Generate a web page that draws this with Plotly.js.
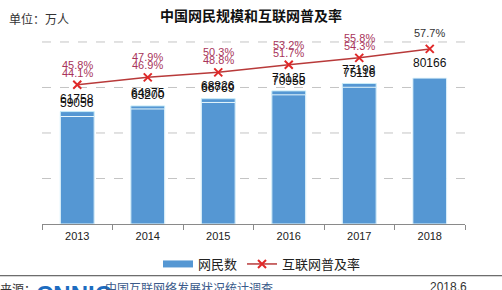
<!DOCTYPE html>
<html>
<head>
<meta charset="utf-8">
<script src="https://cdn.plot.ly/plotly-3.0.1.min.js"></script>
<style>html,body{margin:0;padding:0;background:#fff;}#chart{width:502px;height:290px;}</style>
</head>
<body>
<div id="chart"></div>
<script>
const years = ['2013', '2014', '2015', '2016', '2017', '2018'];
const usersDec = [61758, 64875, 68826, 73125, 77198, null];
const usersJun = [59056, 63200, 66769, 70958, 75116, 80166];
const rateDec = [45.8, 47.9, 50.3, 53.2, 55.8, null];
const rateJun = [44.1, 46.9, 48.8, 51.7, 54.3, 57.7];
const gridVals = [25000, 50000, 75000, 100000];
const barName = '网民数';
const lineName = '互联网普及率';

const W = 502, H = 290, L = 42, R = 465, T = 36, B = 225;
const px = x => (x - L) / (R - L);
const py = y => (B - y) / (B - T);

const fontCJK = '"Noto Sans CJK SC", "Liberation Sans", Arial, sans-serif';
const fontNum = 'Liberation Sans, Arial, sans-serif';
const barColor = '#5597d3';
const lblColor = '#a8345a';

const traces = [
  {
    type: 'bar', x: years, y: usersDec, name: barName,
    marker: {color: barColor, line: {color: '#c8ecf8', width: 1}},
    width: 0.48, showlegend: false, hoverinfo: 'skip'
  },
  {
    type: 'bar', x: years, y: usersJun, name: barName,
    marker: {color: barColor, line: {color: '#e6f6fc', width: 1}},
    width: 0.48, showlegend: false, hoverinfo: 'skip'
  },
  {
    type: 'scatter', mode: 'lines', x: years, y: years.map(() => null), name: barName,
    line: {color: barColor, width: 7}, showlegend: true, hoverinfo: 'skip'
  },
  {
    type: 'scatter', mode: 'lines+markers', x: years, y: rateJun, yaxis: 'y2',
    name: lineName,
    line: {color: '#b83a3a', width: 1.5},
    marker: {symbol: 'x-thin-open', size: 8, color: '#e02828', line: {color: '#e02828', width: 2}}
  }
];

const annotations = [];
years.forEach((yr, i) => {
  if (usersDec[i] != null) annotations.push({
    x: i, y: usersDec[i], xref: 'x', yref: 'y', text: String(usersDec[i]),
    showarrow: false, yanchor: 'bottom', yshift: 4,
    font: {family: fontNum, size: 12, color: '#111'}
  });
  annotations.push({
    x: i, y: usersJun[i], xref: 'x', yref: 'y', text: String(usersJun[i]),
    showarrow: false, yanchor: 'bottom', yshift: yr === '2018' ? 6 : 5,
    font: {family: fontNum, size: 12, color: '#111'}
  });
  if (rateDec[i] != null) annotations.push({
    x: i, y: rateJun[i], xref: 'x', yref: 'y2', text: rateDec[i].toFixed(1) + '%',
    showarrow: false, yanchor: 'middle', yshift: 20,
    font: {family: fontNum, size: 11, color: lblColor}
  });
  annotations.push({
    x: i, y: rateJun[i], xref: 'x', yref: 'y2', text: rateJun[i].toFixed(1) + '%',
    showarrow: false, yanchor: 'middle', yshift: i === years.length - 1 ? 16 : 12,
    font: {family: fontNum, size: 11, color: i === years.length - 1 ? '#333' : lblColor}
  });
});

annotations.push(
  {text: '单位：万人', xref: 'paper', yref: 'paper', x: px(7), y: py(18), xanchor: 'left', yanchor: 'middle',
   showarrow: false, font: {family: fontCJK, size: 12, color: '#333'}},
  {text: '来源：', xref: 'paper', yref: 'paper', x: px(-2), y: py(279), xanchor: 'left', yanchor: 'top',
   showarrow: false, font: {family: fontCJK, size: 12, color: '#333'}},
  {text: '<b>CNNIC</b>', xref: 'paper', yref: 'paper', x: px(34), y: py(280), xanchor: 'left', yanchor: 'top',
   showarrow: false, font: {family: fontNum, size: 24, color: '#1d6cc0'}},
  {text: '中国互联网络发展状况统计调查', xref: 'paper', yref: 'paper', x: px(103), y: py(278), xanchor: 'left', yanchor: 'top',
   showarrow: false, font: {family: fontCJK, size: 12, color: '#3a5a8a'}},
  {text: '2018.6', xref: 'paper', yref: 'paper', x: px(448), y: py(279), xanchor: 'center', yanchor: 'top',
   showarrow: false, font: {family: fontNum, size: 12, color: '#333'}}
);

const shapes = gridVals.map(v => ({
  type: 'line', xref: 'paper', yref: 'y', x0: 0, x1: 1, y0: v, y1: v, layer: 'below',
  line: {color: '#c4c4c4', width: 1, dash: 'dash'}
}));
shapes.push({type: 'line', xref: 'paper', yref: 'paper', x0: px(0), x1: px(502), y0: py(277), y1: py(277),
  line: {color: '#444', width: 1}});

const layout = {
  width: W, height: H,
  margin: {l: L, r: W - R, t: T, b: H - B, pad: 0},
  paper_bgcolor: '#ffffff', plot_bgcolor: '#ffffff',
  barmode: 'overlay',
  showlegend: true,
  title: {
    text: '<b>中国网民规模和互联网普及率</b>',
    font: {family: fontCJK, size: 14, color: '#111'},
    x: 251 / W, xref: 'container', xanchor: 'center',
    y: 1 - 16 / H, yref: 'container', yanchor: 'middle'
  },
  xaxis: {
    type: 'category', categoryorder: 'array', categoryarray: years,
    range: [-0.5, years.length - 0.5], autorange: false,
    showline: true, linecolor: '#8a8a8a', linewidth: 1,
    ticks: 'outside', tickson: 'boundaries', ticklen: 5, tickcolor: '#8a8a8a',
    ticklabelstandoff: 2,
    tickfont: {family: fontNum, size: 11, color: '#222'},
    showgrid: false, zeroline: false
  },
  yaxis: {
    range: [0, 103279], autorange: false, showticklabels: false,
    showgrid: false, zeroline: false, showline: false, fixedrange: true
  },
  yaxis2: {
    overlaying: 'y', side: 'right', range: [-8.8, 62.6], autorange: false,
    showgrid: false, showticklabels: false, zeroline: false, showline: false
  },
  legend: {
    orientation: 'h', x: px(262), xanchor: 'center', y: py(264), yanchor: 'middle',
    font: {family: fontCJK, size: 13, color: '#222'},
    bgcolor: 'rgba(0,0,0,0)', traceorder: 'normal'
  },
  shapes: shapes,
  annotations: annotations
};

Plotly.newPlot('chart', traces, layout, {displayModeBar: false, staticPlot: true});
</script>
</body>
</html>
